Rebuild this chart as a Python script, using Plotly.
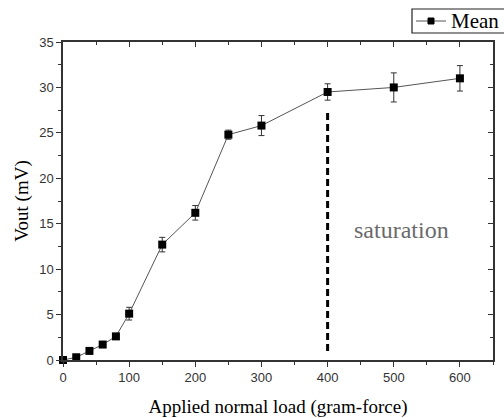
import plotly.graph_objects as go

load_gf = [0, 20, 40, 60, 80, 100, 150, 200, 250, 300, 400, 500, 600]
vout_mean = [0.0, 0.3, 1.0, 1.7, 2.6, 5.1, 12.7, 16.2, 24.8, 25.8, 29.5, 30.0, 31.0]
vout_err = [0.1, 0.2, 0.2, 0.2, 0.3, 0.7, 0.8, 0.8, 0.5, 1.1, 0.9, 1.6, 1.4]
series_name = "Mean"

sat_x = 400
sat_y = [1.0, 27.4]
sat_label = "saturation"
sat_label_pos = (512, 14.3)

x_range = [0, 650]
y_range = [0, 35]

fig = go.Figure()
fig.add_trace(go.Scatter(
    x=load_gf, y=vout_mean, name=series_name, mode="lines+markers",
    line=dict(color="#555555", width=1),
    marker=dict(symbol="square", size=8, color="black"),
    error_y=dict(type="data", array=vout_err, visible=True, color="#333333", thickness=1, width=3),
    cliponaxis=False, showlegend=False,
))
# invisible trace for top/right axes
fig.add_trace(go.Scatter(x=[x_range[0]], y=[y_range[0]], xaxis="x2", yaxis="y2",
                         mode="markers", marker=dict(opacity=0), showlegend=False, hoverinfo="skip"))

fig.add_shape(type="line", x0=sat_x, x1=sat_x, y0=sat_y[0], y1=sat_y[1], xref="x", yref="y",
              line=dict(color="black", width=3, dash="7px,4px"))
fig.add_annotation(x=sat_label_pos[0], y=sat_label_pos[1], text=sat_label, showarrow=False,
                   font=dict(family="Liberation Serif", size=24, color="#6a6a6a"))

# manual legend box (paper coordinates; plot area spans 430 x 318 px)
pw, ph = 430.0, 318.0
def px(xp):
    return (xp - 63) / pw
def py(yp):
    return (360 - yp) / ph
fig.add_shape(type="rect", xref="paper", yref="paper", x0=px(412), x1=px(507), y0=py(33), y1=py(9),
              line=dict(color="#222222", width=1.2), fillcolor="white", layer="above")
fig.add_shape(type="line", xref="paper", yref="paper", x0=px(416), x1=px(446), y0=py(21), y1=py(21),
              line=dict(color="#555555", width=1))
fig.add_shape(type="rect", xref="paper", yref="paper", x0=px(428), x1=px(434), y0=py(24), y1=py(18),
              line=dict(color="black", width=1), fillcolor="black")
fig.add_annotation(xref="paper", yref="paper", x=px(449), y=py(21), xanchor="left", yanchor="middle",
                   text=series_name, showarrow=False,
                   font=dict(family="Liberation Serif", size=21, color="black"))

tickfont = dict(family="Liberation Sans", size=13, color="#333333")
fig.update_layout(
    width=504, height=418,
    margin=dict(l=63, r=11, t=42, b=58, autoexpand=False),
    plot_bgcolor="white", paper_bgcolor="white",
    showlegend=False,
    xaxis=dict(range=x_range, dtick=100, tick0=0, showline=True, linecolor="#333333", linewidth=1.5,
               ticks="outside", ticklen=5, tickcolor="#333333", showgrid=False, zeroline=False,
               minor=dict(dtick=50, ticks="outside", ticklen=3, tickcolor="#333333"),
               tickfont=tickfont, automargin=False,
               title=dict(text="Applied normal load (gram-force)", standoff=16,
                          font=dict(family="Liberation Serif", size=19, color="black"))),
    yaxis=dict(range=y_range, dtick=5, tick0=0, showline=True, linecolor="#333333", linewidth=1.5,
               ticks="outside", ticklen=5, tickcolor="#333333", showgrid=False, zeroline=False,
               minor=dict(dtick=2.5, ticks="outside", ticklen=3, tickcolor="#333333"),
               tickfont=tickfont, automargin=False,
               title=dict(text="Vout (mV)", standoff=6,
                          font=dict(family="Liberation Serif", size=19, color="black"))),
    xaxis2=dict(range=x_range, overlaying="x", side="top", dtick=100, tick0=0, showline=True,
                linecolor="#333333", linewidth=1.5, ticks="inside", ticklen=5, tickcolor="#333333",
                showticklabels=False, showgrid=False, zeroline=False, automargin=False,
                minor=dict(dtick=50, ticks="inside", ticklen=3, tickcolor="#333333")),
    yaxis2=dict(range=y_range, overlaying="y", side="right", dtick=5, tick0=0, showline=True,
                linecolor="#333333", linewidth=1.5, ticks="inside", ticklen=5, tickcolor="#333333",
                showticklabels=False, showgrid=False, zeroline=False, automargin=False,
                minor=dict(dtick=2.5, ticks="inside", ticklen=3, tickcolor="#333333")),
)

fig.write_html("out.html")
